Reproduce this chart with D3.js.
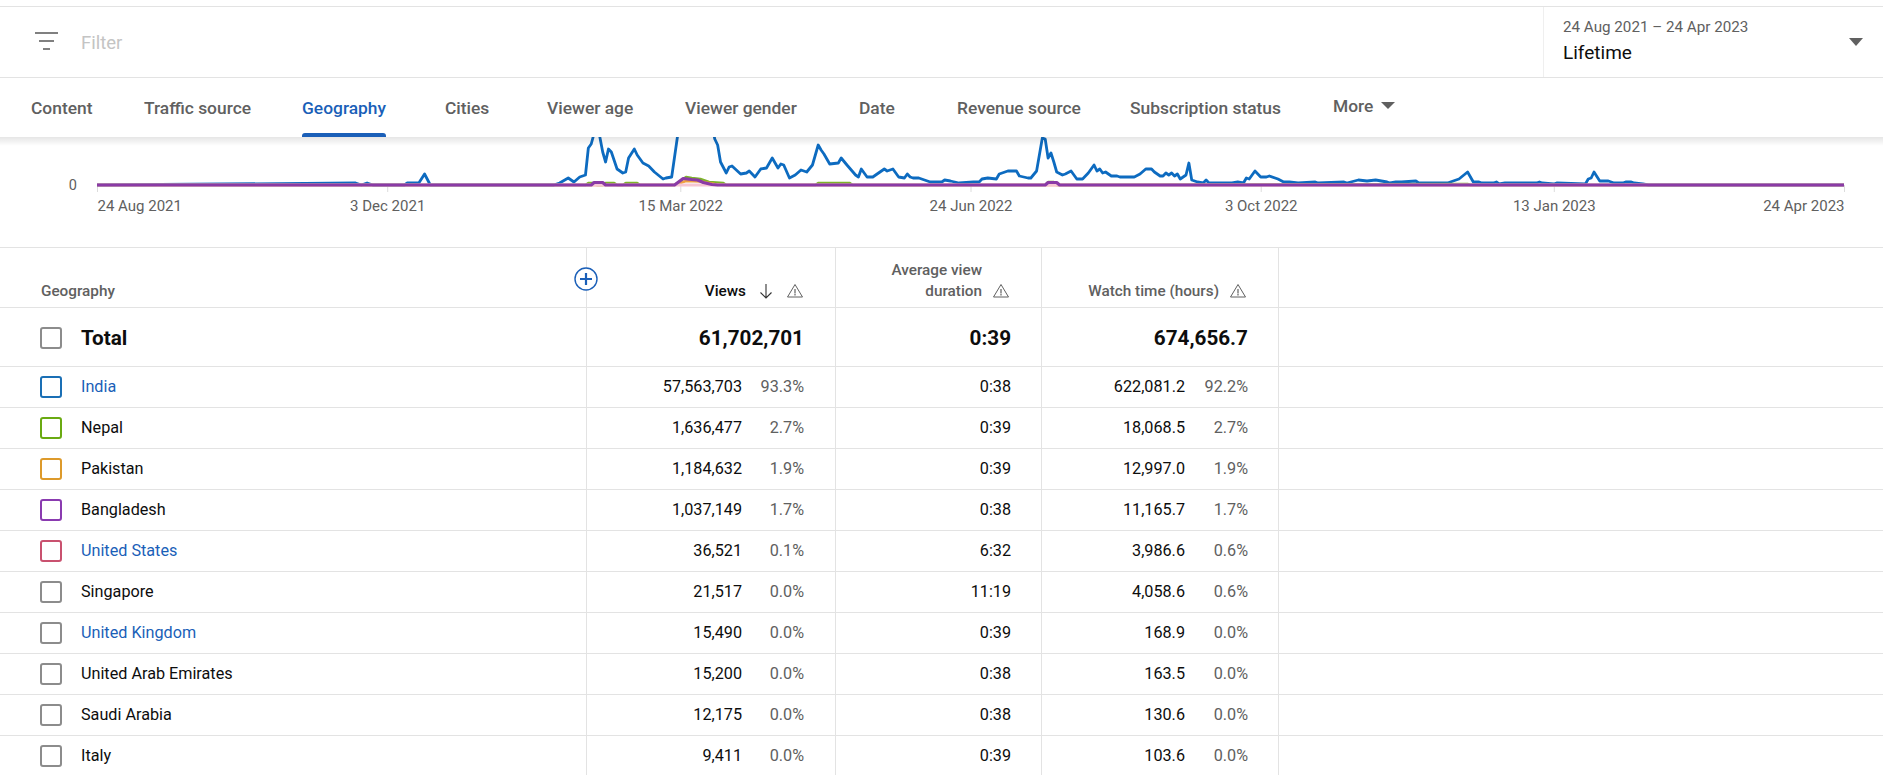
<!DOCTYPE html>
<html>
<head>
<meta charset="utf-8">
<script src="https://cdn.jsdelivr.net/npm/d3@7"></script>
<style>
  body { margin: 0; background: white; }
  svg { display: block; font-family: Roboto, sans-serif; }
</style>
</head>
<body>
<script>
// chart data: days since 24 Aug 2021 and estimated views in thousands (axis only shows 0)
const indiaDays = [0,90,92,94,96,107,108,112,114,116,159,161,164,166,168,170,171,172,174,175,176,177,178,179,181,183,184,185,187,188,190,192,194,197,198,200,201,202,205,208,212,215,216,217,219,220,221,224,226,227,229,231,233,235,237,238,239,241,243,245,247,249,251,252,253,255,258,259,261,264,265,266,268,270,273,274,275,277,279,281,282,283,284,286,290,294,295,297,300,305,307,308,310,313,314,317,320,321,324,325,327,329,330,331,332,333,334,336,337,339,341,343,345,347,348,349,350,351,353,355,356,361,363,365,367,368,370,371,372,373,374,375,376,377,379,380,381,383,385,386,387,390,395,397,399,400,401,403,405,407,408,411,413,415,418,424,425,434,435,439,442,445,449,450,452,454,459,460,470,472,474,477,479,481,482,486,487,488,490,501,502,503,507,508,518,519,520,521,523,526,528,531,532,534,535,538,540,608]
const indiaViews = [0,20,0,20,0,0,20,20,110,0,0,20,70,30,80,100,370,410,620,480,330,230,360,330,160,120,130,270,360,300,220,190,130,60,70,80,280,480,900,1100,900,460,400,230,120,180,190,110,120,140,80,160,170,270,170,210,200,70,100,150,130,200,400,350,310,210,220,270,200,100,80,160,80,80,140,160,140,160,80,70,110,80,70,70,30,30,50,40,20,30,30,60,70,60,110,140,140,90,70,70,140,470,460,270,320,230,130,100,110,140,60,60,120,200,140,160,120,130,90,90,80,80,110,160,160,130,90,90,120,100,120,90,110,60,100,220,50,30,20,50,20,20,20,30,20,70,60,140,80,80,90,60,30,30,20,30,20,30,20,50,40,50,30,20,30,30,40,20,20,40,60,130,30,30,20,20,30,10,20,20,30,20,10,20,10,60,70,130,40,40,20,20,30,30,20,10,0,0]

const nepalDays = [0,170,171,173,174,176,177,180,181,183,184,186,187,188,189,201,204,205,207,210,213,218,219,250,251,262,263,330,331,333,334,477,478,608]
const nepalViews = [0,0,20,20,0,0,20,20,0,0,20,20,20,20,0,0,60,80,70,60,30,20,0,0,20,20,0,0,30,30,0,10,0,0]

const pakistanDays = [0,201,205,210,215,218,608]
const pakistanViews = [0,0,40,35,10,0,0]

const bangladeshDays = [0,172,173,176,177,201,204,207,209,211,214,216,330,331,334,335,608]
const bangladeshViews = [0,0,25,25,0,0,65,55,50,25,5,0,0,25,25,0,0]

const usDays = [0,608]
const usViews = [0,0]

const tickDates = ['2021-08-24','2021-12-03','2022-03-15','2022-06-24','2022-10-03','2023-01-13','2023-04-24']
const tickLabels = ['24 Aug 2021','3 Dec 2021','15 Mar 2022','24 Jun 2022','3 Oct 2022','13 Jan 2023','24 Apr 2023']

// table data
const countries = ['India','Nepal','Pakistan','Bangladesh','United States','Singapore','United Kingdom','United Arab Emirates','Saudi Arabia','Italy']
const views = [57563703,1636477,1184632,1037149,36521,21517,15490,15200,12175,9411]
const viewsPct = ['93.3%','2.7%','1.9%','1.7%','0.1%','0.0%','0.0%','0.0%','0.0%','0.0%']
const durations = ['0:38','0:39','0:39','0:38','6:32','11:19','0:39','0:38','0:38','0:39']
const watchHours = [622081.2,18068.5,12997.0,11165.7,3986.6,4058.6,168.9,163.5,130.6,103.6]
const watchPct = ['92.2%','2.7%','1.9%','1.7%','0.6%','0.6%','0.0%','0.0%','0.0%','0.0%']
const boxColors = ['#1a6fb5','#6aaa12','#dd9a2b','#8a3bb0','#c9516f','#8c8c8c','#8c8c8c','#8c8c8c','#8c8c8c','#8c8c8c']
const linked = ['India','United States','United Kingdom']

const tabs = ['Content','Traffic source','Geography','Cities','Viewer age','Viewer gender','Date','Revenue source','Subscription status']
const tabX = [31,144,302,445,547,685,859,957,1130]

const W = 1883, H = 775
const GREY = '#606060', LINE = '#e3e3e3', BLUE = '#1a5fb8'

const svg = d3.select('body').append('svg')
    .attr('width', W)
    .attr('height', H)
    .style('background', 'white')

function main(){
    drawChart()
    drawTopBars()
    drawTable()
}

function drawChart(){
    const start = d3.timeParse('%Y-%m-%d')('2021-08-24')
    const xScale = d3.scaleTime()
        .domain([start, d3.timeDay.offset(start, 608)])
        .range([97, 1844])
    const yScale = d3.scaleLinear()
        .domain([0, 480])
        .range([185, 137])

    const xAxis = d3.axisBottom(xScale)
        .tickValues(tickDates.map(d3.timeParse('%Y-%m-%d')))
        .tickSize(7)
        .tickFormat((d, i) => tickLabels[i])
    const xg = svg.append('g')
        .attr('transform', 'translate(0,185)')
        .call(xAxis)
    xg.select('.domain').remove()
    xg.selectAll('line').attr('stroke', '#dcdcdc')
    xg.selectAll('text')
        .attr('y', 15)
        .attr('font-size', 15)
        .attr('font-family', 'Roboto')
        .attr('fill', GREY)
        .attr('text-anchor', (d, i) => i == 0 ? 'start' : i == tickDates.length - 1 ? 'end' : 'middle')

    const yAxis = d3.axisLeft(yScale).tickValues([0]).tickSize(0)
    const yg = svg.append('g')
        .attr('transform', 'translate(80,0)')
        .call(yAxis)
    yg.select('.domain').remove()
    yg.selectAll('text')
        .attr('x', -3)
        .attr('font-size', 14.5)
        .attr('font-family', 'Roboto')
        .attr('fill', GREY)

    const line = d3.line()
        .x(d => xScale(d3.timeDay.offset(start, d[0])))
        .y(d => yScale(d[1]))

    const series = [
        [indiaDays, indiaViews, '#0d6bc0', 2.8],
        [nepalDays, nepalViews, '#7db32a', 2.4],
        [pakistanDays, pakistanViews, '#f0a040', 2.4],
        [usDays, usViews, '#f6c6d2', 3],
        [bangladeshDays, bangladeshViews, '#8a3aa6', 3.2]
    ]
    series.forEach(s => {
        svg.append('path')
            .attr('d', line(d3.zip(s[0], s[1])))
            .attr('fill', 'none')
            .attr('stroke', s[2])
            .attr('stroke-width', s[3])
            .attr('stroke-linejoin', 'round')
    })
}

function drawTopBars(){
    // everything above the chart sits on white and clips the tall peaks
    svg.append('rect').attr('x', 0).attr('y', 0).attr('width', W).attr('height', 137).attr('fill', 'white')

    const grad = svg.append('defs').append('linearGradient')
        .attr('id', 'shadow').attr('x1', 0).attr('x2', 0).attr('y1', 0).attr('y2', 1)
    grad.append('stop').attr('offset', 0).attr('stop-color', '#000').attr('stop-opacity', 0.1)
    grad.append('stop').attr('offset', 1).attr('stop-color', '#000').attr('stop-opacity', 0)
    svg.append('rect').attr('x', 0).attr('y', 137).attr('width', W).attr('height', 9).attr('fill', 'url(#shadow)')

    svg.append('line').attr('x1', 0).attr('x2', W).attr('y1', 6.5).attr('y2', 6.5).attr('stroke', LINE)
    svg.append('line').attr('x1', 0).attr('x2', W).attr('y1', 77.5).attr('y2', 77.5).attr('stroke', LINE)
    svg.append('line').attr('x1', 1543.5).attr('x2', 1543.5).attr('y1', 7).attr('y2', 77).attr('stroke', '#efefef')

    // filter icon
    ;[[35,58,33],[39,54,41],[43,50,49]].forEach(l => {
        svg.append('line').attr('x1', l[0]).attr('x2', l[1]).attr('y1', l[2]).attr('y2', l[2])
            .attr('stroke', GREY).attr('stroke-width', 1.6)
    })
    svg.append('text').attr('x', 81).attr('y', 48.5).attr('font-size', 18.5).attr('fill', '#c4c4c4').text('Filter')

    svg.append('text').attr('x', 1563).attr('y', 32).attr('font-size', 15.2).attr('fill', GREY).text('24 Aug 2021 – 24 Apr 2023')
    svg.append('text').attr('x', 1563).attr('y', 58.5).attr('font-size', 19).attr('fill', '#0d0d0d').text('Lifetime')
    svg.append('path').attr('d', 'M1849,38 h14 l-7,8 z').attr('fill', GREY)

    svg.selectAll('.tab')
        .data(tabs)
        .enter()
        .append('text')
        .attr('x', (d, i) => tabX[i])
        .attr('y', 113.5)
        .attr('font-size', 17.4)
        .attr('font-weight', 500)
        .attr('fill', d => d == 'Geography' ? BLUE : GREY)
        .text(d => d)
    svg.append('text').attr('x', 1333).attr('y', 111.5).attr('font-size', 17.4).attr('font-weight', 500).attr('fill', GREY).text('More')
    svg.append('path').attr('d', 'M1381,102 h14 l-7,7 z').attr('fill', GREY)
    svg.append('path').attr('d', 'M302,137 v-1 q0,-3 3,-3 h78 q3,0 3,3 v1 z').attr('fill', BLUE)
}

function warning(cx, cy){
    svg.append('path')
        .attr('d', `M${cx},${cy - 6.5} L${cx + 7.5},${cy + 6} H${cx - 7.5} Z`)
        .attr('fill', 'none').attr('stroke', GREY).attr('stroke-width', 1)
    svg.append('line').attr('x1', cx).attr('x2', cx).attr('y1', cy - 2).attr('y2', cy + 2.5)
        .attr('stroke', GREY).attr('stroke-width', 1.2)
    svg.append('line').attr('x1', cx).attr('x2', cx).attr('y1', cy + 3).attr('y2', cy + 4.5)
        .attr('stroke', GREY).attr('stroke-width', 1.2)
}

function checkbox(cy, color){
    svg.append('rect')
        .attr('x', 41).attr('y', cy - 10).attr('width', 20).attr('height', 20).attr('rx', 2)
        .attr('fill', 'white').attr('stroke', color).attr('stroke-width', 2)
}

function drawTable(){
    const rowScale = d3.scaleBand().domain(countries).range([366, 776])
    const fmtViews = d3.format(',')
    const fmtHours = d3.format(',.1f')

    ;[247, 307, 366].concat(countries.map(c => rowScale(c) + rowScale.bandwidth())).forEach(y => {
        svg.append('line').attr('x1', 0).attr('x2', W).attr('y1', y + 0.5).attr('y2', y + 0.5).attr('stroke', LINE)
    })
    ;[586, 835, 1041, 1278].forEach(x => {
        svg.append('line').attr('x1', x + 0.5).attr('x2', x + 0.5).attr('y1', 247).attr('y2', H).attr('stroke', LINE)
    })

    // header
    const head = (x, y, label, fill, anchor) => svg.append('text')
        .attr('x', x).attr('y', y).attr('font-size', 15.3).attr('font-weight', 500)
        .attr('fill', fill).attr('text-anchor', anchor || 'end').text(label)
    head(41, 296, 'Geography', GREY, 'start')
    head(746, 296, 'Views', '#0d0d0d')
    head(982, 275, 'Average view', GREY)
    head(982, 296, 'duration', GREY)
    head(1219, 296, 'Watch time (hours)', GREY)
    warning(795, 291)
    warning(1001, 291)
    warning(1238, 291)

    svg.append('path').attr('d', 'M766,284 V298 M760.5,292.5 L766,298 L771.5,292.5')
        .attr('fill', 'none').attr('stroke', '#333').attr('stroke-width', 1.1)

    svg.append('circle').attr('cx', 586).attr('cy', 279).attr('r', 11)
        .attr('fill', 'white').attr('stroke', BLUE).attr('stroke-width', 1.4)
    svg.append('path').attr('d', 'M586,273 V285 M580,279 H592')
        .attr('stroke', BLUE).attr('stroke-width', 2.2)

    // total row
    checkbox(338, '#8c8c8c')
    const total = (x, label, anchor) => svg.append('text')
        .attr('x', x).attr('y', 345).attr('font-size', 20.7).attr('font-weight', 700)
        .attr('fill', '#0d0d0d').attr('text-anchor', anchor || 'end').text(label)
    total(81, 'Total', 'start')
    total(804, '61,702,701')
    total(1011, '0:39')
    total(1248, '674,656.7')

    // country rows
    countries.forEach((c, i) => {
        const cy = rowScale(c) + rowScale.bandwidth() / 2 + 0.5
        const row = (x, label, fill, anchor) => svg.append('text')
            .attr('x', x).attr('y', cy + 5).attr('font-size', 16.2)
            .attr('fill', fill || '#0d0d0d').attr('text-anchor', anchor || 'end').text(label)
        checkbox(cy, boxColors[i])
        row(81, c, linked.includes(c) ? BLUE : '#0d0d0d', 'start')
        row(742, fmtViews(views[i]))
        row(804, viewsPct[i], GREY)
        row(1011, durations[i])
        row(1185, fmtHours(watchHours[i]))
        row(1248, watchPct[i], GREY)
    })
}

main()
</script>
</body>
</html>
